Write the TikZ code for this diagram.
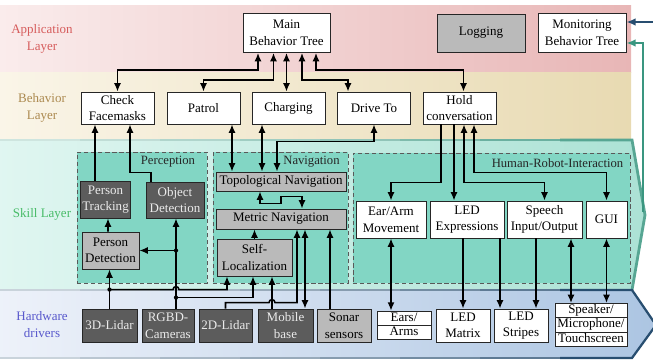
\documentclass[tikz,border=0pt]{standalone}
\usepackage{fontspec}
\setmainfont{Liberation Serif}
\usetikzlibrary{arrows.meta,calc,positioning,shapes.multipart}
\definecolor{appleft}{RGB}{250,236,236}
\definecolor{appright}{RGB}{232,182,182}
\definecolor{behleft}{RGB}{250,245,232}
\definecolor{behright}{RGB}{232,218,178}
\definecolor{skillleft}{RGB}{224,246,241}
\definecolor{skillright}{RGB}{172,226,213}
\definecolor{skillline}{RGB}{58,150,128}
\definecolor{groupteal}{RGB}{130,214,196}
\definecolor{hwleft}{RGB}{238,242,250}
\definecolor{hwright}{RGB}{172,197,226}
\definecolor{hwline}{RGB}{40,78,112}
\definecolor{darkgraybox}{RGB}{92,92,92}
\definecolor{lightgraybox}{RGB}{186,186,186}
\definecolor{applabel}{RGB}{214,92,92}
\definecolor{behlabel}{RGB}{172,138,80}
\definecolor{skilllabel}{RGB}{72,188,104}
\definecolor{hwlabel}{RGB}{88,88,204}
\newcommand{\cellstrut}{\rule[-2.2pt]{0pt}{8.6pt}}
\tikzset{box/.style={
            draw=black!85,
            fill=white,
            line width=0.6pt,
            inner xsep=1pt,
            inner ysep=0pt,
            align=center,
            font=\fontsize{9.25pt}{11.8pt}\selectfont
        },
        behbox/.style={
            box,
            minimum width=1.825cm,
            minimum height=0.8cm
        },
        hwbox/.style={
            box,
            minimum height=0.825cm
        },
        graybox/.style={
            fill=lightgraybox
        },
        darkbox/.style={
            fill=darkgraybox,
            text=white!92!black
        },
        splitbox/.style={
            box,
            rectangle split,
            rectangle split parts=#1,
            inner ysep=0.5pt
        },
        groupbox/.style={
            draw=black!65,
            dash pattern=on 3pt off 2pt,
            line width=0.6pt,
            fill=groupteal
        },
        layername/.style={
            align=center,
            font=\fontsize{9.25pt}{11.8pt}\selectfont
        },
        groupname/.style={
            text=black!85,
            inner sep=0pt,
            font=\fontsize{9pt}{11pt}\selectfont
        },
        conn/.style={
            line width=1.1pt,
            >={Latex[length=6pt,width=5pt]}
        },
        outconn/.style={
            line width=1.7pt,
            >={Latex[length=6.5pt,width=5.5pt]}
        }
    }
\begin{document}
\begin{tikzpicture}[x=0.025cm, y=-0.025cm]
        \useasboundingbox (0,0) rectangle (653,361);
        % layers
        \shade[left color=appleft, right color=appright] (0,6) rectangle (631,73);
        \shade[left color=behleft, right color=behright] (0,73) rectangle (631,140);
        \shade[left color=skillleft, right color=skillright]
            (-5,140) -- (632,140) -- (645,215) -- (632,290) -- (-5,290) -- cycle;
        \foreach \x/\c in {0/25,80/32,160/40,240/48,320/56,400/65,480/75}
            \draw[line width=2pt, skillline!\c] (\x,140) -- (\x+81,140);
        \draw[line width=2pt, skillline!85, line join=miter] (560,140) -- (632,140) -- (645,215) -- (632,290);
        \shade[left color=hwleft, right color=hwright]
            (-5,290) -- (632,290) -- (656,325) -- (632,358) -- (-5,358) -- cycle;
        \foreach \x/\c in {0/25,80/32,160/40,240/48,320/56,400/65,480/75} {
            \draw[line width=1.6pt, hwline!\c] (\x,290) -- (\x+81,290);
            \draw[line width=1.6pt, hwline!\c] (\x,358) -- (\x+81,358);
        }
        \draw[line width=1.6pt, hwline, line join=miter] (560,290) -- (632,290) -- (656,325) -- (632,358) -- (560,358);
        \node[layername, text=applabel] (applayer) at (42,39) {Application\\Layer};
        \node[layername, text=behlabel] (behlayer) at (42,108) {Behavior\\Layer};
        \node[layername, text=skilllabel] (skilllayer) at (42,214) {Skill Layer};
        \node[layername, text=hwlabel] (hwlayer) at (42,324.5) {Hardware\\drivers};
        % skill groups
        \node[groupbox, minimum width=3.25cm, minimum height=3.275cm] (perception) at (142,217.5) {};
        \node[groupbox, minimum width=3.375cm, minimum height=3.275cm] (navigation) at (280.5,217.5) {};
        \node[groupbox, minimum width=6.925cm, minimum height=3.25cm] (hri) at (491.5,218) {};
        \node[groupname] (perceptionname) at (168,162) {Perception};
        \node[groupname] (navigationname) at (311.5,162) {Navigation};
        \node[groupname] (hriname) at (557.5,163) {Human-Robot-Interaction};
        % application layer
        \node[box, minimum width=2.175cm, minimum height=0.975cm] (main) at (286.5,33) {Main\\Behavior Tree};
        \node[box, graybox, minimum width=2.2cm, minimum height=0.95cm] (logging) at (481,33) {Logging};
        \node[box, minimum width=2.2cm, minimum height=0.975cm] (monitor) at (582,32.5) {Monitoring\\Behavior Tree};
        % behavior layer
        \node[behbox] (facemasks) at (117.5,108) {Check\\Facemasks};
        \node[behbox] (patrol) at (203.5,108) {Patrol};
        \node[behbox] (charging) at (288.5,108) {Charging};
        \node[behbox] (driveto) at (374,108) {Drive To};
        \node[behbox] (hold) at (459.5,108) {Hold\\conversation};
        % skill layer
        \node[box, darkbox, minimum width=1.225cm, minimum height=0.925cm] (tracking) at (105.5,199.5) {Person\\Tracking};
        \node[box, darkbox, minimum width=1.45cm, minimum height=0.9cm] (objdet) at (175,200) {Object\\Detection};
        \node[box, graybox, minimum width=1.425cm, minimum height=0.925cm] (persdet) at (110.5,250.5) {Person\\Detection};
        \node[box, graybox, minimum width=3.25cm, minimum height=0.475cm] (topo) at (281,181.5) {Topological Navigation};
        \node[box, graybox, minimum width=3.25cm, minimum height=0.5cm] (metric) at (281,219) {Metric Navigation};
        \node[box, graybox, minimum width=1.875cm, minimum height=0.925cm] (selfloc) at (254.5,257.5) {Self-\\Localization};
        \node[box, minimum width=1.75cm, minimum height=0.925cm] (eararm) at (391,219.5) {Ear/Arm\\Movement};
        \node[box, minimum width=1.85cm, minimum height=0.925cm] (ledexp) at (467,219.5) {LED\\Expressions};
        \node[box, minimum width=1.875cm, minimum height=0.925cm] (speech) at (544.5,219.5) {Speech\\Input/Output};
        \node[box, minimum width=1.025cm, minimum height=0.925cm] (gui) at (606.5,219.5) {GUI};
        % hardware layer
        \node[hwbox, darkbox, minimum width=1.375cm] (lidar3d) at (109.5,325.5) {3D-Lidar};
        \node[hwbox, darkbox, minimum width=1.3cm] (rgbd) at (168,325.5) {RGBD-\\Cameras};
        \node[hwbox, darkbox, minimum width=1.325cm] (lidar2d) at (225.5,325.5) {2D-Lidar};
        \node[hwbox, darkbox, minimum width=1.375cm] (mobile) at (285.5,325.5) {Mobile\\base};
        \node[hwbox, graybox, minimum width=1.35cm] (sonar) at (344,325.5) {Sonar\\sensors};
        \node[splitbox=2, minimum width=1.35cm] (earsarms) at (404,325.5)
            {\cellstrut Ears/\nodepart{two}\cellstrut Arms};
        \node[hwbox, minimum width=1.35cm] (ledmatrix) at (463,325.5) {LED\\Matrix};
        \node[hwbox, minimum width=1.35cm] (ledstripes) at (521,325.5) {LED\\Stripes};
        \node[splitbox=3, minimum width=1.8cm] (speaker) at (591,325)
            {\cellstrut Speaker/\nodepart{two}\cellstrut Microphone/\nodepart{three}\cellstrut Touchscreen};
        % application <-> behavior
        \draw[conn, <->] ($(main.south)+(-28.5,0)$) -- ++(0,17) -| (facemasks.north);
        \draw[conn, <->] ($(main.south)+(-13,0)$) -- ++(0,27) -| (patrol.north);
        \draw[conn, <->] (main.south) -- (main.south |- charging.north);
        \draw[conn, <->] ($(main.south)+(15.5,0)$) -- ++(0,27) -| ($(driveto.north)+(-26,0)$);
        \draw[conn, <->] ($(main.south)+(29.5,0)$) -- ++(0,17) -| ($(hold.north)+(4,0)$);
        % perception
        \draw[conn, ->] ($(tracking.north)+(-10.5,0)$) -- ($(facemasks.south)+(-22.5,0)$);
        \draw[conn, ->] ($(objdet.north)+(-24,0)$) -- ++(0,-9) -| ($(facemasks.south)+(12.5,0)$);
        \draw[conn, ->] ($(persdet.north)+(-2.5,0)$) -- ($(tracking.south)+(2.5,0)$);
        % sensors
        \coordinate (camup) at ($(rgbd.north)+(8,0)$);
        \coordinate (lidarjoin) at ($(lidar3d.north)+(0,-19)$);
        \coordinate (camjoin) at ($(camup)+(0,-11)$);
        \coordinate (baseup) at ($(mobile.north)+(-13.5,0)$);
        \coordinate (flatjoin) at ($(lidar2d.north)+(0,-6)$);
        \draw[conn, ->] (camup) -- (camup |- objdet.south);
        \draw[conn, ->] (camup |- persdet.east) -- (persdet.east);
        \draw[conn, ->] (lidar3d.north) -- (lidar3d.north |- persdet.south);
        \draw[conn, ->] (lidarjoin) -- ($(camup |- lidarjoin)+(-3,0)$)
            arc[start angle=180, end angle=0, radius=0.075cm] -| ($(selfloc.south)+(-27.5,0)$);
        \draw[conn, ->] (camjoin) -| ($(selfloc.south)+(-1.5,0)$);
        \draw[conn, ->] (baseup) -- (baseup |- selfloc.south);
        \draw[conn, ->] (lidar2d.north) -- (flatjoin) -- ($(baseup |- flatjoin)+(-3,0)$)
            arc[start angle=180, end angle=0, radius=0.075cm] -| ($(metric.south)+(16,0)$);
        \draw[conn, <->] ($(metric.south)+(24,0)$) -- ($(mobile.north)+(19.5,0)$);
        \draw[conn, ->] ($(sonar.north)+(-14,0)$) -- ($(metric.south)+(49,0)$);
        \fill (lidarjoin) circle (1.5pt);
        \fill (camup |- persdet.east) circle (1.5pt);
        \fill (camjoin) circle (1.5pt);
        % navigation
        \draw[conn, ->] (selfloc.north) -- (selfloc.north |- metric.south);
        \draw[conn, <->] ($(topo.south)+(-21,0)$) -- ++(0,12) -- ++(21,0) -- ++(0,-7) -| ($(metric.north)+(21,0)$);
        \draw[conn, <->] ($(patrol.south)+(28.5,0)$) -- ($(topo.north)+(-49,0)$);
        \draw[conn, <->] ($(charging.south)+(-26.5,0)$) -- ($(topo.north)+(-19,0)$);
        \draw[conn, <->] (driveto.south) -- ++(0,17) -| ($(topo.north)+(-4,0)$);
        % human-robot-interaction
        \draw[conn, ->] ($(hold.south)+(-18.5,0)$) -- ++(0,58) -| (eararm.north);
        \draw[conn, ->] ($(hold.south)+(-5.5,0)$) -- ($(ledexp.north)+(-13,0)$);
        \draw[conn, <->] ($(hold.south)+(4.5,0)$) -- ++(0,58) -| (speech.north);
        \draw[conn, <->] ($(hold.south)+(14.5,0)$) -- ++(0,48) -| (gui.north);
        \draw[conn, <->] (eararm.south) -- (eararm.south |- earsarms.north);
        \draw[conn, ->] ($(ledexp.south)+(-4,0)$) -- (ledmatrix.north);
        \draw[conn, ->] ($(ledexp.south)+(33,0)$) -- ($(ledstripes.north)+(-21,0)$);
        \draw[conn, ->] ($(speech.south)+(-8.5,0)$) -- ($(ledstripes.north)+(15,0)$);
        \draw[conn, <->] ($(speech.south)+(26.5,0)$) -- ($(speaker.north)+(-20,0)$);
        \draw[conn, <->] (gui.south) -- (gui.south |- speaker.north);
        % monitoring
        \coordinate (hwout) at (656,22);
        \coordinate (skilltip) at (643,212);
        \draw[outconn, ->, draw=hwline] (hwout) -- ($(monitor.east)+(0,-10.5)$);
        \draw[outconn, ->, draw=skillline] (skilltip) |- ($(monitor.east)+(0,10.5)$);
    \end{tikzpicture}
\end{document}
